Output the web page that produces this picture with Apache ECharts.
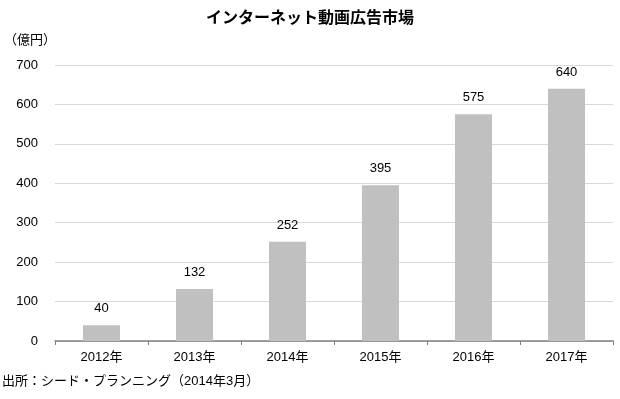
<!DOCTYPE html>
<html>
<head>
<meta charset="utf-8">
<script src="https://cdn.jsdelivr.net/npm/echarts@6/dist/echarts.min.js"></script>
<style>
  html, body { margin: 0; padding: 0; background: #fff; }
  #chart { width: 620px; height: 399px; }
</style>
</head>
<body>
<div id="chart"></div>
<script>
// Data
const years = ["2012年", "2013年", "2014年", "2015年", "2016年", "2017年"];
const adMarket = [40, 132, 252, 395, 575, 640];

const font = '"Liberation Sans", "Noto Sans CJK JP", sans-serif';

const chart = echarts.init(document.getElementById("chart"));

const option = {
  animation: false,
  textStyle: { fontFamily: font, color: "#000" },
  title: {
    text: "インターネット動画広告市場",
    left: "center",
    top: 6,
    textStyle: { fontFamily: font, fontSize: 16, fontWeight: "bold", color: "#000" },
  },
  graphic: [
    {
      type: "text",
      left: 4,
      top: 34,
      style: { text: "（億円）", font: "13px " + font, fill: "#000" },
    },
    {
      type: "text",
      left: 2,
      top: 375,
      style: { text: "出所：シード・プランニング（2014年3月）", font: "13px " + font, fill: "#000" },
    },
  ],
  grid: { left: 55, right: 7, top: 65, bottom: 58 },
  xAxis: {
    type: "category",
    data: years,
    axisLine: { lineStyle: { color: "#808080", width: 1.5 } },
    axisTick: { show: true, length: 4, lineStyle: { color: "#808080" } },
    axisLabel: { color: "#000", fontSize: 13, margin: 10 },
  },
  yAxis: {
    type: "value",
    min: 0,
    max: 700,
    interval: 100,
    axisLine: { show: false },
    axisTick: { show: false },
    axisLabel: { color: "#000", fontSize: 13, margin: 17 },
    splitLine: { lineStyle: { color: "#d9d9d9" } },
  },
  series: [
    {
      type: "bar",
      data: adMarket,
      barWidth: 37,
      itemStyle: { color: "#c0c0c0" },
      label: { show: true, position: "top", distance: 10, color: "#000", fontSize: 13 },
    },
  ],
};

chart.setOption(option);
</script>
</body>
</html>
